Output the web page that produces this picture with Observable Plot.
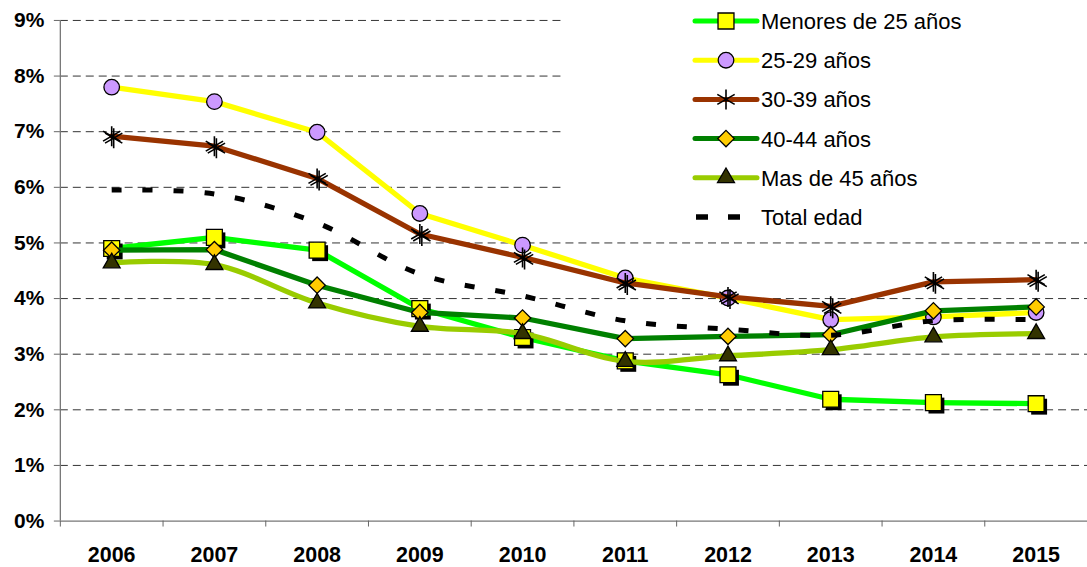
<!DOCTYPE html>
<html><head><meta charset="utf-8">
<script src="https://cdn.jsdelivr.net/npm/d3@7"></script>
<script src="https://cdn.jsdelivr.net/npm/@observablehq/plot@0.6"></script>
<style>
html,body{margin:0;padding:0;background:#fff;overflow:hidden;}
#wrap{position:relative;width:1087px;height:567px;overflow:hidden;}
#legend{position:absolute;left:565px;top:0;width:522px;height:236px;background:#fff;}
</style></head><body><div id="wrap"><div id="chart"></div><div id="legend"></div></div>
<script>
// ---- data ----
const years = [2006, 2007, 2008, 2009, 2010, 2011, 2012, 2013, 2014, 2015];
const menores25 = [4.9, 5.1, 4.87, 3.82, 3.3, 2.88, 2.63, 2.19, 2.13, 2.11];
const de25a29 = [7.8, 7.54, 6.99, 5.53, 4.96, 4.37, 4.01, 3.62, 3.67, 3.75];
const de30a39 = [6.92, 6.74, 6.16, 5.16, 4.74, 4.28, 4.03, 3.86, 4.3, 4.34];
const de40a44 = [4.87, 4.88, 4.24, 3.75, 3.65, 3.28, 3.32, 3.35, 3.78, 3.85];
const mas45 = [4.64, 4.61, 3.92, 3.5, 3.37, 2.87, 2.97, 3.08, 3.31, 3.37];
const totalEdad = [5.95, 5.88, 5.36, 4.44, 4.05, 3.6, 3.45, 3.34, 3.6, 3.62];
const seriesNames = ["Menores de 25 años", "25-29 años", "30-39 años", "40-44 años", "Mas de 45 años", "Total edad"];
const yTicks = [0, 1, 2, 3, 4, 5, 6, 7, 8, 9];

// ---- styling ----
const styles = [
  {values: menores25, line: "#00FF00", symbol: "square", fill: "#FFFF00", r: 9, shadow: true, curve: "linear"},
  {values: de25a29, line: "#FFFF00", symbol: "circle", fill: "#CC99FF", r: 7.8, curve: "linear"},
  {values: de30a39, line: "#993300", symbol: "asterisk", fill: "none", r: 9.5, curve: "linear"},
  {values: de40a44, line: "#008000", symbol: "diamond2", fill: "#FFCC00", r: 7.4, curve: "linear"},
  {values: mas45, line: "#99CC00", symbol: "triangle", fill: "#333300", r: 6.3, curve: "catmull-rom"},
  {values: totalEdad, line: "#000000", symbol: null, dash: true, curve: "catmull-rom"}
];
const bounds = d3.range(years.length + 1).map(i => years[0] - 0.5 + i);
const font = "'Liberation Sans', Arial, sans-serif";

const marks = [
  Plot.ruleY(yTicks.filter(d => d > 0), {stroke: "#333", strokeWidth: 1, strokeDasharray: "8,5"}),
  Plot.ruleX([bounds[0]], {stroke: "#777", strokeWidth: 1.3}),
  Plot.ruleY([0], {stroke: "#777", strokeWidth: 1.3}),
  Plot.axisY(yTicks, {tickSize: 6, tickPadding: 10, stroke: "#666", fill: "#000", fontSize: 21, fontWeight: "bold", tickFormat: d => d + "%", label: null}),
  Plot.axisX(bounds, {tickSize: 6, stroke: "#666", tickFormat: () => "", label: null}),
  Plot.axisX(years, {tickSize: 0, tickPadding: 26, fill: "#000", fontSize: 21.5, fontWeight: "bold", tickFormat: d => String(d), label: null})
];
styles.forEach((s, k) => {
  const rows = years.map((yr, i) => ({year: yr, value: s.values[i], serie: seriesNames[k]}));
  if (s.dash) {
    marks.push(Plot.line(rows, {x: "year", y: "value", stroke: s.line, strokeWidth: 5, strokeDasharray: "10,21", strokeLinecap: "butt", curve: s.curve}));
  } else {
    marks.push(Plot.line(rows, {x: "year", y: "value", stroke: s.line, strokeWidth: 5.3, curve: s.curve}));
  }
  if (s.symbol === "asterisk") {
    marks.push(Plot.dot(rows, {x: "year", y: "value", symbol: "asterisk", r: s.r, stroke: "#000", strokeWidth: 1.6, dx: 2, dy: 2}));
    marks.push(Plot.dot(rows, {x: "year", y: "value", symbol: "asterisk", r: s.r, stroke: "#000", strokeWidth: 1.6}));
  } else if (s.symbol) {
    if (s.shadow) marks.push(Plot.dot(rows, {x: "year", y: "value", symbol: s.symbol, r: s.r, fill: "#000", dx: 3, dy: 3}));
    marks.push(Plot.dot(rows, {x: "year", y: "value", symbol: s.symbol, r: s.r, fill: s.fill, stroke: "#000", strokeWidth: 1.3}));
  }
});

const chart = Plot.plot({
  width: 1090, height: 567,
  marginLeft: 60, marginRight: 0, marginTop: 20, marginBottom: 45,
  x: {type: "linear", domain: [bounds[0], bounds[bounds.length - 1]]},
  y: {domain: [0, 9]},
  style: {fontFamily: font, background: "#fff", overflow: "visible"},
  marks
});
document.getElementById("chart").append(chart);

// ---- legend ----
const lg = d3.select("#legend").append("svg").attr("width", 522).attr("height", 236)
  .style("font-family", font);
styles.forEach((s, k) => {
  const cy = 21 + k * 39.2;
  const g = lg.append("g").attr("transform", `translate(0,${cy})`);
  if (s.dash) {
    g.append("line").attr("x1", 131).attr("x2", 143).attr("y1", 0).attr("y2", 0).attr("stroke", "#000").attr("stroke-width", 5.5);
    g.append("line").attr("x1", 163).attr("x2", 175).attr("y1", 0).attr("y2", 0).attr("stroke", "#000").attr("stroke-width", 5.5);
  } else {
    g.append("line").attr("x1", 130).attr("x2", 192).attr("y1", 0).attr("y2", 0).attr("stroke", s.line).attr("stroke-width", 5).attr("stroke-linecap", "round");
    const symMap = {square: d3.symbolSquare, circle: d3.symbolCircle, asterisk: d3.symbolAsterisk, diamond2: d3.symbolDiamond2, triangle: d3.symbolTriangle};
    const size = Math.PI * s.r * s.r;
    const path = d3.symbol(symMap[s.symbol], size)();
    const p = g.append("path").attr("d", path).attr("transform", "translate(161,0)");
    if (s.symbol === "asterisk") p.attr("fill", "none").attr("stroke", "#000").attr("stroke-width", 1.6);
    else p.attr("fill", s.fill).attr("stroke", "#000").attr("stroke-width", 1.3);
  }
  g.append("text").attr("x", 196).attr("y", 0).attr("dy", "0.36em").attr("font-size", 22).attr("fill", "#000").text(seriesNames[k]);
});
</script></body></html>
